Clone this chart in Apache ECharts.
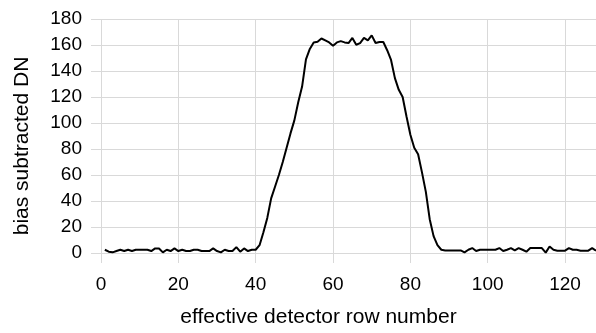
<!DOCTYPE html>
<html>
<head>
<meta charset="utf-8">
<script src="https://cdn.jsdelivr.net/npm/echarts@6/dist/echarts.min.js"></script>
<style>
html,body{margin:0;padding:0;background:#fff;}
#c{width:596px;height:333px;}
</style>
</head>
<body>
<div id="c"></div>
<script>
// effective detector row numbers 1..128
const rows = [];
for (let i = 1; i <= 128; i++) rows.push(i);

const dnValues = [
  2.5, 1, 0.5, 1.5, 2.5, 1.5, 2.5, 1.5, 2.5, 2.5,
  2.5, 2.5, 1.5, 3.5, 3.5, 0.5, 2.5, 1.5, 3.5, 1.5,
  2.5, 1.5, 1.5, 2.5, 2.5, 1.5, 1.5, 1.5, 3.5, 1.5,
  0.5, 2.5, 1.5, 1.5, 4.5, 1, 3.5, 1.5, 2.5, 2.5,
  6, 16, 27, 42, 51, 60, 70, 81, 92, 102,
  116, 128, 149, 157, 162, 162.5, 165, 163.5, 162, 159.5,
  162, 163, 162, 161.5, 165.4, 160.2, 161.5, 165.4, 163.6, 167.4,
  161.5, 162.3, 162.3, 156, 148.5, 134.5, 125.5, 120, 105, 91,
  81, 76, 62, 47, 26, 13, 6, 2.5, 2, 2,
  2, 2, 2, 0.5, 2.5, 3.8, 1.5, 2.5, 2.5, 2.5,
  2.5, 2.5, 3.8, 1.5, 2.5, 3.8, 2, 3.8, 2.5, 1,
  3.8, 3.8, 3.8, 3.8, 0.3, 5, 2.5, 1.8, 1.8, 1.8,
  3.8, 2.5, 2.5, 1.8, 1.8, 1.8, 3.8, 1.8
];

const xTitle = 'effective detector row number';
const yTitle = 'bias subtracted DN';

const seriesData = rows.map((r, i) => [r, dnValues[i]]);

const chart = echarts.init(document.getElementById('c'), null, {renderer: 'canvas'});
const gridColor = '#d9d9d9';
const font = 'Liberation Sans, Arial, sans-serif';
chart.setOption({
  animation: false,
  backgroundColor: '#ffffff',
  grid: {left: 101, top: 19, width: 497, height: 234, containLabel: false},
  xAxis: {
    type: 'value', min: 0, max: 128, interval: 20,
    name: xTitle, nameLocation: 'middle', nameGap: 54,
    nameTextStyle: {fontFamily: font, fontSize: 21, color: '#000', padding: [0, 60, 0, 0]},
    axisLine: {show: false},
    axisTick: {show: true, length: 10, lineStyle: {color: gridColor}},
    axisLabel: {fontFamily: font, fontSize: 19, color: '#000', margin: 22},
    splitLine: {show: true, lineStyle: {color: gridColor, width: 1}}
  },
  yAxis: {
    type: 'value', min: 0, max: 180, interval: 20,
    name: yTitle, nameLocation: 'middle', nameGap: 68,
    nameTextStyle: {fontFamily: font, fontSize: 21, color: '#000', padding: [0, 20, 0, 0]},
    axisLine: {show: false},
    axisTick: {show: true, length: 10, lineStyle: {color: gridColor}},
    axisLabel: {fontFamily: font, fontSize: 19, color: '#000', margin: 19},
    splitLine: {show: true, lineStyle: {color: gridColor, width: 1}}
  },
  series: [{
    type: 'line', data: seriesData, showSymbol: false, symbol: 'none',
    lineStyle: {color: '#000', width: 2}, clip: false
  }]
});
</script>
</body>
</html>
